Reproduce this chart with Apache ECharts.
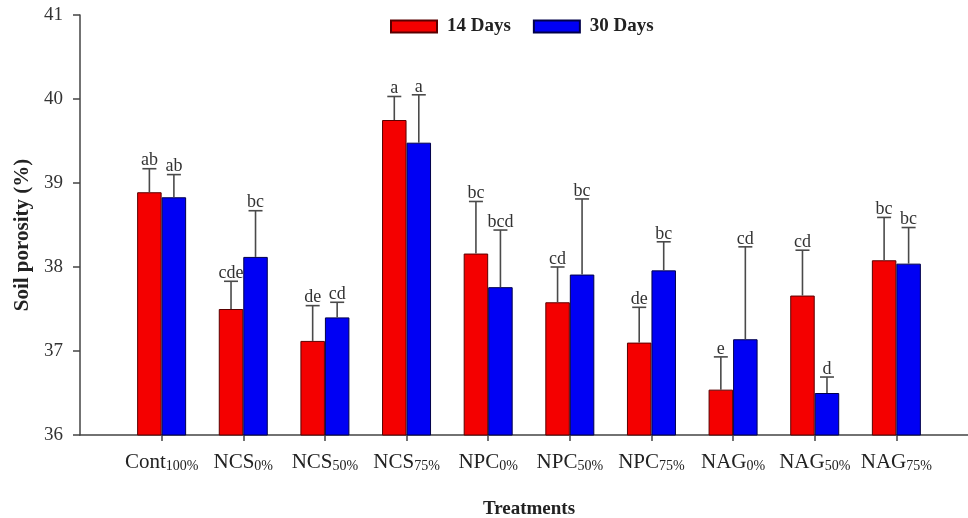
<!DOCTYPE html>
<html>
<head>
<meta charset="utf-8">
<script src="https://cdn.jsdelivr.net/npm/echarts@6/dist/echarts.min.js"></script>
<style>
html, body { margin: 0; padding: 0; background: #fff; }
#chart { width: 968px; height: 518px; }
</style>
</head>
<body>
<div id="chart"></div>
<script>
// treatments (main name + subscript)
const treatments = ['Cont', 'NCS', 'NCS', 'NCS', 'NPC', 'NPC', 'NPC', 'NAG', 'NAG', 'NAG']
const subs = ['100%', '0%', '50%', '75%', '0%', '50%', '75%', '0%', '50%', '75%']

// soil porosity means (%)
const days14 = [38.89, 37.50, 37.12, 39.75, 38.16, 37.58, 37.10, 36.54, 37.66, 38.08]
const days30 = [38.83, 38.12, 37.40, 39.48, 37.76, 37.91, 37.96, 37.14, 36.50, 38.04]

// standard errors (upper bar only)
const err14 = [0.28, 0.33, 0.42, 0.28, 0.62, 0.42, 0.42, 0.39, 0.54, 0.51]
const err30 = [0.27, 0.55, 0.18, 0.57, 0.68, 0.90, 0.34, 1.10, 0.19, 0.43]

// significance letters
const letters14 = ['ab', 'cde', 'de', 'a', 'bc', 'cd', 'de', 'e', 'cd', 'bc']
const letters30 = ['ab', 'bc', 'cd', 'a', 'bcd', 'bc', 'bc', 'cd', 'd', 'bc']

const yTicks = [36, 37, 38, 39, 40, 41]

const serif = '"Liberation Serif", "DejaVu Serif", serif'
const barW = 24.5

// blank slot at both ends so the first bar sits one step away from the y axis
const cats = [''].concat(treatments.map((t, i) => t + '|' + subs[i]), [''])
const pad = arr => ['-'].concat(arr, ['-'])

function errSeries(name, means, errs, letters, side) {
    return {
        name: name,
        type: 'custom',
        z: 5,
        data: means.map((m, i) => [i + 1, m, m + errs[i]]),
        encode: { x: 0, y: 2 },
        renderItem: (params, api) => {
            const i = params.dataIndex
            const bottom = api.coord([api.value(0), api.value(1)])
            const top = api.coord([api.value(0), api.value(2)])
            const x = bottom[0] + side * barW / 2
            const cap = 7
            return {
                type: 'group',
                children: [{
                    type: 'line',
                    shape: { x1: x, y1: bottom[1], x2: x, y2: top[1] },
                    style: { stroke: '#4a4a4a', lineWidth: 1.6 }
                }, {
                    type: 'line',
                    shape: { x1: x - cap, y1: top[1], x2: x + cap, y2: top[1] },
                    style: { stroke: '#4a4a4a', lineWidth: 1.6 }
                }, {
                    type: 'text',
                    style: {
                        text: letters[i],
                        x: x,
                        y: top[1] + 1,
                        align: 'center',
                        verticalAlign: 'bottom',
                        fontSize: 18,
                        fontFamily: serif,
                        fill: '#333'
                    }
                }]
            }
        }
    }
}

const myChart = echarts.init(document.getElementById('chart'))
myChart.setOption({
    animation: false,
    backgroundColor: '#fff',
    legend: {
        data: ['14 Days', '30 Days'],
        left: 385,
        top: 12,
        icon: 'rect',
        itemWidth: 46,
        itemHeight: 12,
        itemGap: 22,
        textStyle: { fontFamily: serif, fontWeight: 'bold', fontSize: 19, color: '#222', padding: [0, 0, 0, 5] }
    },
    grid: {
        left: 80,
        right: -10,
        top: 15,
        bottom: 83,
        outerBoundsMode: 'none'
    },
    xAxis: {
        type: 'category',
        data: cats,
        boundaryGap: false,
        name: 'Treatments',
        nameLocation: 'middle',
        nameGap: 65,
        nameTextStyle: { fontFamily: serif, fontWeight: 'bold', fontSize: 19, color: '#222' },
        axisLine: { lineStyle: { color: '#444', width: 1.5 } },
        axisTick: {
            length: 6,
            interval: (i) => i > 0 && i < cats.length - 1,
            lineStyle: { color: '#444', width: 1.5 }
        },
        axisLabel: {
            interval: 0,
            margin: 16,
            formatter: (v) => {
                if (!v) return ''
                const p = v.split('|')
                return '{m|' + p[0] + '}{s|' + p[1] + '}'
            },
            rich: {
                m: { fontFamily: serif, fontSize: 21, color: '#222', lineHeight: 22, verticalAlign: 'bottom' },
                s: { fontFamily: serif, fontSize: 14, color: '#222', lineHeight: 6, verticalAlign: 'bottom' }
            }
        },
        splitLine: { show: false }
    },
    yAxis: {
        type: 'value',
        min: yTicks[0],
        max: yTicks[yTicks.length - 1],
        interval: 1,
        name: 'Soil porosity (%)',
        nameLocation: 'middle',
        nameGap: 44,
        nameTextStyle: { fontFamily: serif, fontWeight: 'bold', fontSize: 21, color: '#222', padding: [0, 0, 0, -20] },
        axisLine: { show: true, lineStyle: { color: '#444', width: 1.5 } },
        axisTick: { show: true, length: 7, lineStyle: { color: '#444', width: 1.5 } },
        axisLabel: { fontFamily: serif, fontSize: 19, color: '#333', margin: 17 },
        splitLine: { show: false }
    },
    series: [{
        name: '14 Days',
        type: 'bar',
        data: pad(days14),
        barWidth: barW,
        barGap: '0%',
        itemStyle: { color: '#f40000', borderColor: '#5a0000', borderWidth: 1 }
    }, {
        name: '30 Days',
        type: 'bar',
        data: pad(days30),
        barWidth: barW,
        barGap: '0%',
        itemStyle: { color: '#0000f4', borderColor: '#00004a', borderWidth: 1 }
    },
    errSeries('err14', days14, err14, letters14, -1),
    errSeries('err30', days30, err30, letters30, 1)]
})
</script>
</body>
</html>
